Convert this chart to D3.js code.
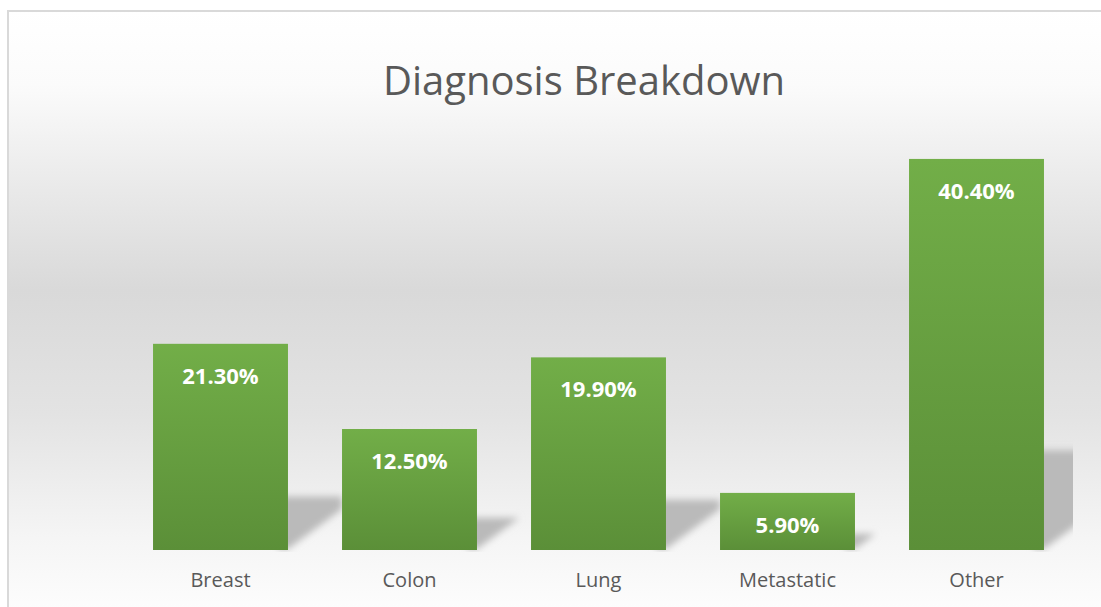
<!DOCTYPE html>
<html><head><meta charset="utf-8">
<script src="https://cdn.jsdelivr.net/npm/d3@7"></script>
<style>html,body{margin:0;padding:0;background:#fff;overflow:hidden}svg{display:block}</style>
</head><body>
<script>
const categories = ["Breast","Colon","Lung","Metastatic","Other"];
const values = [21.3, 12.5, 19.9, 5.9, 40.4];
const labels = ["21.30%","12.50%","19.90%","5.90%","40.40%"];
const title = "Diagnosis Breakdown";

const W = 1101, H = 607;
const svg = d3.select("body").append("svg").attr("width", W).attr("height", H);
const defs = svg.append("defs");

const bg = defs.append("linearGradient").attr("id","bg").attr("x1",0).attr("y1",0).attr("x2",0).attr("y2",1);
[[0,"#ffffff"],[0.12,"#fbfbfb"],[0.25,"#ededed"],[0.45,"#d9d9d9"],[0.65,"#e3e3e3"],[0.85,"#f5f5f5"],[1,"#ffffff"]]
  .forEach(([o,c])=>bg.append("stop").attr("offset",o).attr("stop-color",c));

const bar = defs.append("linearGradient").attr("id","bar").attr("x1",0).attr("y1",0).attr("x2",0).attr("y2",1);
bar.append("stop").attr("offset",0).attr("stop-color","#72ae48");
bar.append("stop").attr("offset",1).attr("stop-color","#5b8f38");

defs.append("filter").attr("id","blur").attr("x","-30%").attr("y","-30%").attr("width","160%").attr("height","160%")
  .append("feGaussianBlur").attr("stdDeviation",3.5);

defs.append("clipPath").attr("id","plotclip").append("rect")
  .attr("x",100).attr("y",100).attr("width",973).attr("height",452);

// chart area background + border
svg.append("rect").attr("x",8).attr("y",11).attr("width",1160).attr("height",620)
  .attr("fill","url(#bg)").attr("stroke","#d9d9d9").attr("stroke-width",2);

const x = d3.scaleBand().domain(categories).range([126,1071]).paddingInner(0.286).paddingOuter(0.143);
const y = d3.scaleLinear().domain([0,45]).range([550,114.4]);

// shadows
const sh = svg.append("g").attr("clip-path","url(#plotclip)").append("g").attr("filter","url(#blur)");
categories.forEach((c,i)=>{
  const x1 = x(c) + x.bandwidth();
  const h = y(0) - y(values[i]);
  const ytop = y(0) - (0.25*h + 2);
  const Wd = 54, slope = 0.74;
  const yb = y(0) - 1;
  const xr = x1 + Wd;
  const ybr = yb - Wd*slope;
  let pts;
  if (ybr > ytop) {
    pts = [[x1-10,yb],[x1-10,ytop],[xr,ytop],[xr,ybr],[x1,yb]];
  } else {
    const xm = x1 + (yb - ytop)/slope;
    pts = [[x1-10,yb],[x1-10,ytop],[xm,ytop],[x1,yb]];
  }
  sh.append("path").attr("d", d3.line()(pts)+"Z").attr("fill","#bababa");
});

// bars
svg.append("g").selectAll("rect").data(categories).join("rect")
  .attr("x", d=>x(d)).attr("width", x.bandwidth())
  .attr("y", (d,i)=>y(values[i])).attr("height", (d,i)=>y(0)-y(values[i]))
  .attr("fill","url(#bar)");

// data labels
svg.append("g").selectAll("text").data(categories).join("text")
  .attr("x", d=>x(d)+x.bandwidth()/2).attr("y",(d,i)=>y(values[i])+40)
  .attr("text-anchor","middle").attr("fill","#ffffff")
  .attr("font-family","'Open Sans', sans-serif").attr("font-weight","bold").attr("font-size","22px")
  .text((d,i)=>labels[i]);

// x axis
const ax = svg.append("g").attr("transform","translate(0,550)")
  .call(d3.axisBottom(x).tickSize(0).tickPadding(0));
ax.select(".domain").remove();
ax.selectAll("text").attr("dy",null).attr("y",37)
  .attr("font-family","'Open Sans', sans-serif").attr("font-size","20px").attr("fill","#595959");

// title
svg.append("text").attr("x",584).attr("y",95).attr("text-anchor","middle")
  .attr("font-family","'Open Sans', sans-serif").attr("font-size","40px").attr("fill","#595959")
  .text(title);
</script>
</body></html>
